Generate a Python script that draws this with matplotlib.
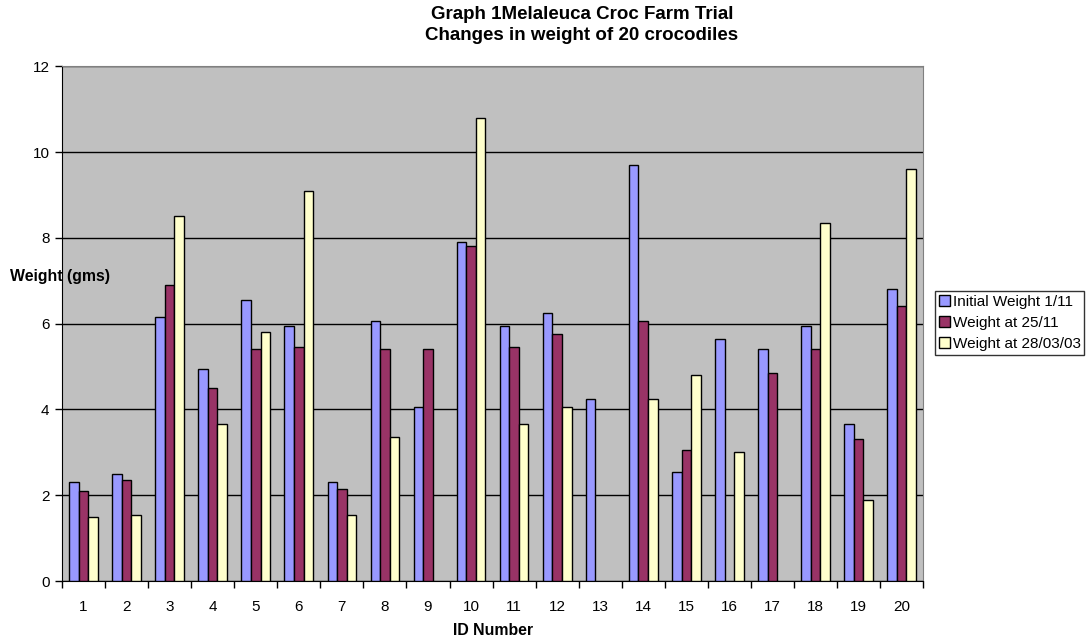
import numpy as np
import matplotlib
matplotlib.use("Agg")
import matplotlib.pyplot as plt

plt.rcParams["font.family"] = ["Liberation Sans", "DejaVu Sans"]

ids = [str(i) for i in range(1, 21)]
initial_weight = [2.3, 2.5, 6.15, 4.95, 6.55, 5.95, 2.3, 6.05, 4.05, 7.9,
                  5.95, 6.25, 4.25, 9.7, 2.55, 5.65, 5.4, 5.95, 3.65, 6.8]
weight_25_11 = [2.1, 2.35, 6.9, 4.5, 5.4, 5.45, 2.15, 5.4, 5.4, 7.8,
                5.45, 5.75, np.nan, 6.05, 3.05, np.nan, 4.85, 5.4, 3.3, 6.4]
weight_28_03 = [1.5, 1.55, 8.5, 3.65, 5.8, 9.1, 1.55, 3.35, np.nan, 10.8,
                3.65, 4.05, np.nan, 4.25, 4.8, 3.0, np.nan, 8.35, 1.9, 9.6]

series = [
    ("Initial Weight 1/11", initial_weight, "#9999FF"),
    ("Weight at 25/11", weight_25_11, "#993366"),
    ("Weight at 28/03/03", weight_28_03, "#FFFFCC"),
]

fig = plt.figure(figsize=(10.9, 6.41), dpi=100)
ax = fig.add_axes([0.0569, 0.0936, 0.790, 0.803])
ax.set_facecolor("#C0C0C0")

x = np.arange(len(ids))
w = 1 / 4.5
for k, (label, vals, color) in enumerate(series):
    ax.bar(x + (k - 1) * w, vals, width=w, color=color, edgecolor="black",
           linewidth=1.0, label=label, zorder=3)

ax.set_xlim(-0.5, len(ids) - 0.5)
ax.set_ylim(0, 12)
ax.set_yticks(range(0, 13, 2))
ax.grid(axis="y", color="black", linewidth=1.0, zorder=1)

# category labels centred, tick marks on the boundaries
ax.set_xticks(x)
ax.set_xticklabels(ids, fontsize=11)
ax.tick_params(axis="x", length=0, pad=14)
ax.set_xticks(np.arange(-0.5, len(ids)), minor=True)
ax.tick_params(axis="x", which="minor", length=5, width=1, color="black")
ax.tick_params(axis="y", labelsize=11, length=5, width=1, pad=4)

for side in ["top", "right"]:
    ax.spines[side].set_color("#808080")
for side in ["left", "bottom"]:
    ax.spines[side].set_color("black")

ax.set_xlabel("ID Number", fontsize=11.4, fontweight="bold", labelpad=6)
fig.text(10 / 1090, 1 - 276 / 641, "Weight (gms)", fontsize=11.4,
         fontweight="bold", ha="left", va="center")

fig.text(0.534, 1 - 25 / 641, "Graph 1Melaleuca Croc Farm Trial\nChanges in weight of 20 crocodiles",
         fontsize=13.5, fontweight="bold", ha="center", va="center", linespacing=1.35)

leg = fig.legend(loc="center left", bbox_to_anchor=(935 / 1090, 1 - 323 / 641),
                 fontsize=11, frameon=True, fancybox=False, edgecolor="black",
                 handlelength=0.7, handleheight=0.7, handletextpad=0.2,
                 borderpad=0.25, labelspacing=0.45, borderaxespad=0)
leg.get_frame().set_linewidth(1.0)

fig.savefig("out.png", dpi=100)
